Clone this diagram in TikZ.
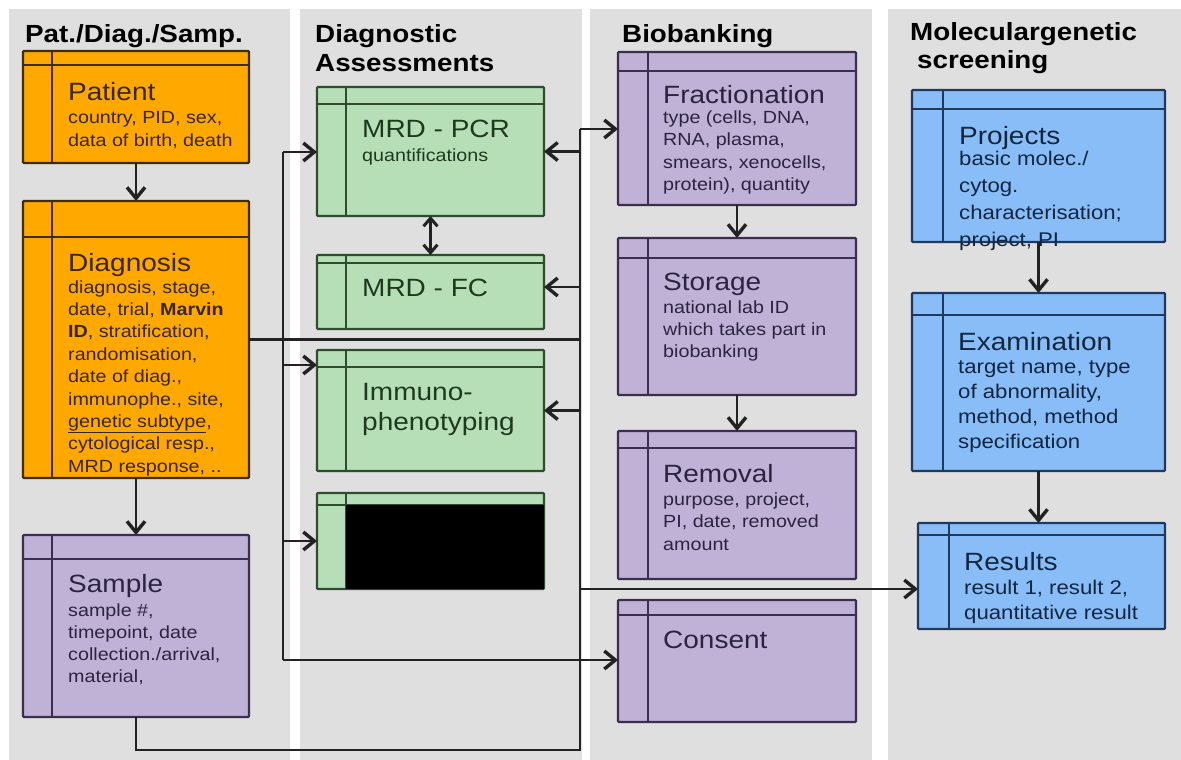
\documentclass[tikz,border=0pt]{standalone}
\usepackage{fontspec}
\setmainfont{Liberation Sans}[FakeStretch=1.12]
\usetikzlibrary{arrows.meta,calc}
\definecolor{bgc}{HTML}{DFDFDF}
\definecolor{orf}{HTML}{FFA800}\definecolor{ord}{HTML}{3F2C00}\definecolor{ort}{HTML}{3A2600}
\definecolor{grf}{HTML}{B7DFB7}\definecolor{grd}{HTML}{2E4D2E}\definecolor{grt}{HTML}{1E3A1E}
\definecolor{puf}{HTML}{C0B2D6}\definecolor{pud}{HTML}{3A2F4F}\definecolor{put}{HTML}{2B2340}
\definecolor{blf}{HTML}{88BDF8}\definecolor{bld}{HTML}{1F3A5E}\definecolor{blt}{HTML}{12263F}
\definecolor{cnc}{HTML}{222222}
\newcommand\ent[9]{%
  \pgfmathsetmacro\entw{#4-#2}\pgfmathsetmacro\enth{#5-#3}%
  \node[entbox, fill=#8, draw=#9, minimum width=\entw pt, minimum height=\enth pt, anchor=north west] (#1) at (#2,#3) {};
  \draw[entline, draw=#9] (#2,#6) -- (#4,#6) (#7,#3) -- (#7,#5);
}
\newcommand\btxt[3]{\parbox[t]{280pt}{\raggedright\fontsize{#1}{#2}\selectfont #3}}
\begin{document}
\begin{tikzpicture}[x=1pt,y=-1pt,
  entbox/.style={rectangle, line width=2.2pt, inner sep=0pt, outer sep=0pt, rounded corners=1pt},
  entline/.style={line width=2pt},
  ttl/.style={anchor=base west, inner sep=0pt, font=\fontsize{25}{30}\selectfont},
  bdy/.style={anchor=base west, inner sep=0pt},
  hdr/.style={anchor=base west, inner sep=0pt, text=black, font=\fontsize{24.8}{29}\selectfont\bfseries},
  cn/.style={draw=cnc, line width=2.1pt},
  arr/.style={cn, -{Straight Barb[length=11pt,width=18pt,line width=3.4pt]}},
  darr/.style={cn, {Straight Barb[length=8pt,width=14pt,line width=3pt]}-{Straight Barb[length=8pt,width=14pt,line width=3pt]}}]
\useasboundingbox (0,0) rectangle (1181,760);
\fill[white] (0,0) rectangle (1181,760);
% column backgrounds
\fill[bgc] (9,9) rectangle (290,760);
\fill[bgc] (300,9) rectangle (582,760);
\fill[bgc] (590,9) rectangle (872,760);
\fill[bgc] (888,9) rectangle (1181,760);
% headings
\node[hdr] (h1) at (25,43) {Pat./Diag./Samp.};
\node[hdr] (h2) at (315,43) {Diagnostic};
\node[hdr] (h2b) at (315,72) {Assessments};
\node[hdr] (h3) at (622,43) {Biobanking};
\node[hdr] (h4) at (910,41) {Moleculargenetic};
\node[hdr] (h4b) at (917,69) {screening};
% entities
\ent{pat}{23}{51}{249}{163}{65}{52}{orf}{ord}
\ent{diag}{23}{201}{249}{478}{237}{52}{orf}{ord}
\ent{samp}{23}{535}{249}{717}{559}{52}{puf}{pud}
\ent{pcr}{317}{87}{544}{216}{104}{346}{grf}{grd}
\ent{fc}{317}{255}{544}{329}{263}{346}{grf}{grd}
\ent{imm}{317}{350}{544}{471}{367}{346}{grf}{grd}
\ent{blk}{317}{493}{544}{589}{505}{346}{grf}{grd}
\fill[black] (346,505) rectangle (blk.south east);
\ent{frac}{618}{52}{856}{205}{71}{648}{puf}{pud}
\ent{stor}{618}{238}{856}{395}{258}{648}{puf}{pud}
\ent{rem}{618}{431}{856}{579}{448}{648}{puf}{pud}
\ent{cons}{618}{600}{856}{722}{615}{648}{puf}{pud}
\ent{proj}{912}{90}{1165}{242}{109}{943}{blf}{bld}
\ent{exam}{912}{293}{1165}{471}{315}{943}{blf}{bld}
\ent{res}{918}{523}{1165}{629}{535}{949}{blf}{bld}
% texts
\node[ttl, text=ort] (patT) at (68,100) {Patient};
\node[bdy, text=ort] (patB) at (68,123) {\btxt{17.6}{23}{country, PID, sex,\\ data of birth, death}};
\node[ttl, text=ort] (diagT) at (68,271) {Diagnosis};
\node[bdy, text=ort] (diagB) at (68,293) {\btxt{17.6}{22.4}{diagnosis, stage,\\ date, trial, \textbf{Marvin}\\ \textbf{ID}, stratification,\\ randomisation,\\ date of diag.,\\ immunophe., site,\\ \underline{genetic subtype},\\ cytological resp.,\\ MRD response, ..}};
\node[ttl, text=put] (sampT) at (68,592) {Sample};
\node[bdy, text=put] (sampB) at (68,616) {\btxt{17.6}{22.3}{sample \#,\\ timepoint, date\\ collection./arrival,\\ material,}};
\node[ttl, text=grt] (pcrT) at (362,137) {MRD - PCR};
\node[bdy, text=grt] (pcrB) at (362,161) {\btxt{17.6}{22}{quantifications}};
\node[ttl, text=grt] (fcT) at (362,296) {MRD - FC};
\node[bdy, text=grt] (immT) at (362,400) {\btxt{25}{30}{Immuno-\\ phenotyping}};
\node[ttl, text=put] (fracT) at (663,103) {Fractionation};
\node[bdy, text=put] (fracB) at (663,123) {\btxt{17.6}{22.5}{type (cells, DNA,\\ RNA, plasma,\\ smears, xenocells,\\ protein), quantity}};
\node[ttl, text=put] (storT) at (663,290) {Storage};
\node[bdy, text=put] (storB) at (663,313) {\btxt{17.6}{22}{national lab ID\\ which takes part in\\ biobanking}};
\node[ttl, text=put] (remT) at (663,482) {Removal};
\node[bdy, text=put] (remB) at (663,505) {\btxt{17.6}{22.5}{purpose, project,\\ PI, date, removed\\ amount}};
\node[ttl, text=put] (consT) at (663,648) {Consent};
\node[ttl, text=blt] (projT) at (959,144) {Projects};
\node[bdy, text=blt] (projB) at (959,165) {\btxt{19.8}{27}{basic molec./\\ cytog.\\ characterisation;\\ project, PI}};
\node[ttl, text=blt] (examT) at (958,350) {Examination};
\node[bdy, text=blt] (examB) at (958,373) {\btxt{19.8}{25}{target name, type\\ of abnormality,\\ method, method\\ specification}};
\node[ttl, text=blt] (resT) at (964,570) {Results};
\node[bdy, text=blt] (resB) at (964,594) {\btxt{19.8}{25}{result 1, result 2,\\ quantitative result}};
% connectors
\coordinate (lbT) at (283,152);
\coordinate (lbI) at (283,365);
\coordinate (lbB) at (283,660);
\coordinate (rbT) at (580,129);
\coordinate (rbF) at (580,287);
\coordinate (rbR) at (580,589);
\coordinate (rbB) at (580,750);
\draw[cn] (lbT) -- (lbB);
\draw[cn] (diag.east) -- (diag.east -| rbT);
\draw[cn] (samp.south) |- (rbB) -- (rbT);
\draw[arr] (lbT) -- (lbT -| pcr.west);
\draw[arr] (lbI) -- (lbI -| imm.west);
\draw[arr] (lbT |- blk.west) -- (blk.west);
\draw[arr] (lbB) -- (lbB -| cons.west);
\draw[arr] (rbT) -- (rbT -| frac.west);
\draw[arr] (rbT |- pcr.east) -- (pcr.east);
\draw[arr] (rbF) -- (rbF -| fc.east);
\draw[arr] (rbT |- imm.east) -- (imm.east);
\draw[arr] (rbR) -- (rbR -| res.west);
\draw[arr] (pat.south) -- (diag.north);
\draw[arr] (diag.south) -- (samp.north);
\draw[arr] (frac.south) -- (stor.north);
\draw[arr] (stor.south) -- (rem.north);
\draw[arr] (proj.south) -- (exam.north);
\draw[arr] (exam.south) -- (exam.south |- res.north);
\draw[darr] (pcr.south) -- (fc.north);
\end{tikzpicture}
\end{document}
